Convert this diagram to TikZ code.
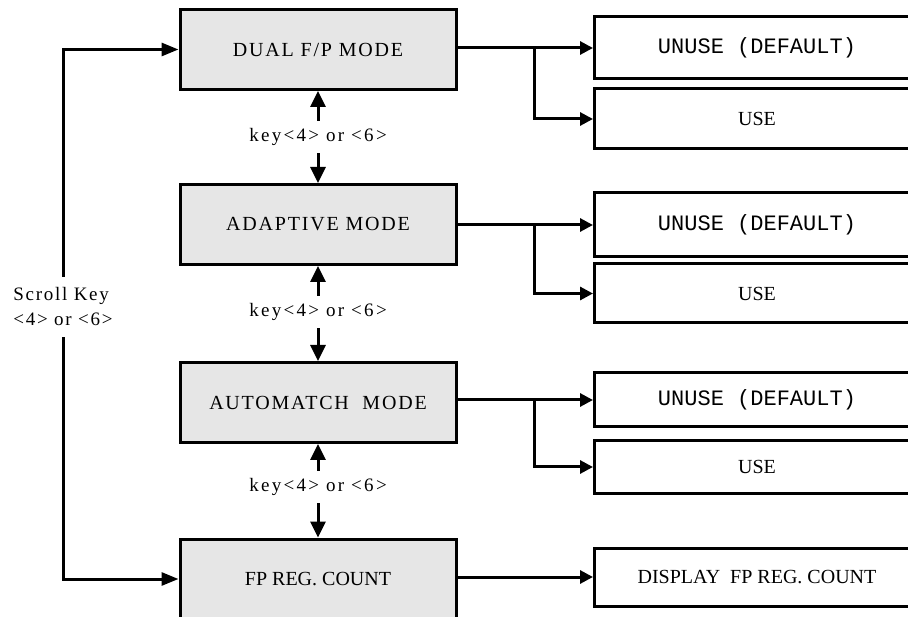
\documentclass[tikz,border=0pt]{standalone}
\usepackage{fontspec}
\setmainfont{Liberation Serif}
\newfontfamily\monof{Liberation Mono}
\newfontfamily\keyf[LetterSpace=12]{Liberation Serif}
\newfontfamily\spf[LetterSpace=9]{Liberation Serif}
\usetikzlibrary{arrows.meta}
\tikzset{
  lbox/.style={draw, line width=3pt, fill=boxgray, minimum width=276pt, minimum height=80pt, inner sep=0pt, font=\spf\fontsize{20}{24}\selectfont},
  rbox/.style={draw, line width=3pt, fill=white, minimum width=325pt, inner sep=0pt, font=\fontsize{20}{24}\selectfont},
  monotext/.style={font=\monof\fontsize{22}{24}\selectfont},
  keylab/.style={inner sep=0pt, minimum height=32pt, font=\keyf\fontsize{19}{22}\selectfont},
  conn/.style={line width=3pt},
  varr/.style={conn, -{Triangle[length=16pt,width=15pt]}},
  harr/.style={conn, -{Triangle[length=13pt,width=13pt]}},
  sarr/.style={conn, -{Triangle[length=17pt,width=13pt]}}
}
\definecolor{boxgray}{HTML}{E6E6E6}
\begin{document}
\begin{tikzpicture}[x=1pt,y=-1pt]
\useasboundingbox (0,0) rectangle (908,617);
\clip (0,0) rectangle (908,617);
% left boxes
\node[lbox] (b1) at (318,49.5) {DUAL F/P MODE};
\node[lbox] (b2) at (318,224.5) {ADAPTIVE MODE};
\node[lbox] (b3) at (318,402.5) {AUTOMATCH\ \ MODE};
\node[lbox, font=\fontsize{20}{24}\selectfont] (b4) at (318,579) {FP REG. COUNT};
% right boxes
\node[rbox, minimum height=62pt, monotext] (r1) at (757,48) {UNUSE (DEFAULT)};
\node[rbox, minimum height=60pt] (r2) at (757,119) {USE};
\node[rbox, minimum height=64pt, monotext] (r3) at (757,225) {UNUSE (DEFAULT)};
\node[rbox, minimum height=59pt] (r4) at (757,293.5) {USE};
\node[rbox, minimum height=54pt, monotext] (r5) at (757,400) {UNUSE (DEFAULT)};
\node[rbox, minimum height=52pt] (r6) at (757,467) {USE};
\node[rbox, minimum height=58pt] (r7) at (757,577) {DISPLAY\ \ FP REG. COUNT};
% key labels
\node[keylab] (k1) at (318,137) {key<4> or <6>};
\node[keylab] (k2) at (318,312) {key<4> or <6>};
\node[keylab] (k3) at (318,487) {key<4> or <6>};
\node[inner sep=0pt, minimum height=60pt, align=left, font=\spf\fontsize{19}{25}\selectfont] (s) at (63,307) {Scroll Key\\<4> or <6>};
% vertical arrows
\draw[varr] (k1.north) -- (b1.south);
\draw[varr] (k1.south) -- (b2.north);
\draw[varr] (k2.north) -- (b2.south);
\draw[varr] (k2.south) -- (b3.north);
\draw[varr] (k3.north) -- (b3.south);
\draw[varr] (k3.south) -- (b4.north);
% scroll arrows
\draw[sarr] (s.north) |- (b1.west);
\draw[sarr] (s.south) |- (b4.west);
% right branches
\coordinate (j1) at (534,48);
\coordinate (j2) at (534,225);
\coordinate (j3) at (534,400);
\draw[conn] (b1.east |- j1) -- (j1);
\draw[harr] (j1) -- (r1.west);
\draw[harr] (j1) |- (r2.west);
\draw[conn] (b2.east |- j2) -- (j2);
\draw[harr] (j2) -- (r3.west);
\draw[harr] (j2) |- (r4.west);
\draw[conn] (b3.east |- j3) -- (j3);
\draw[harr] (j3) -- (r5.west);
\draw[harr] (j3) |- (r6.west);
\draw[harr] (b4.east |- r7.west) -- (r7.west);
\end{tikzpicture}
\end{document}
